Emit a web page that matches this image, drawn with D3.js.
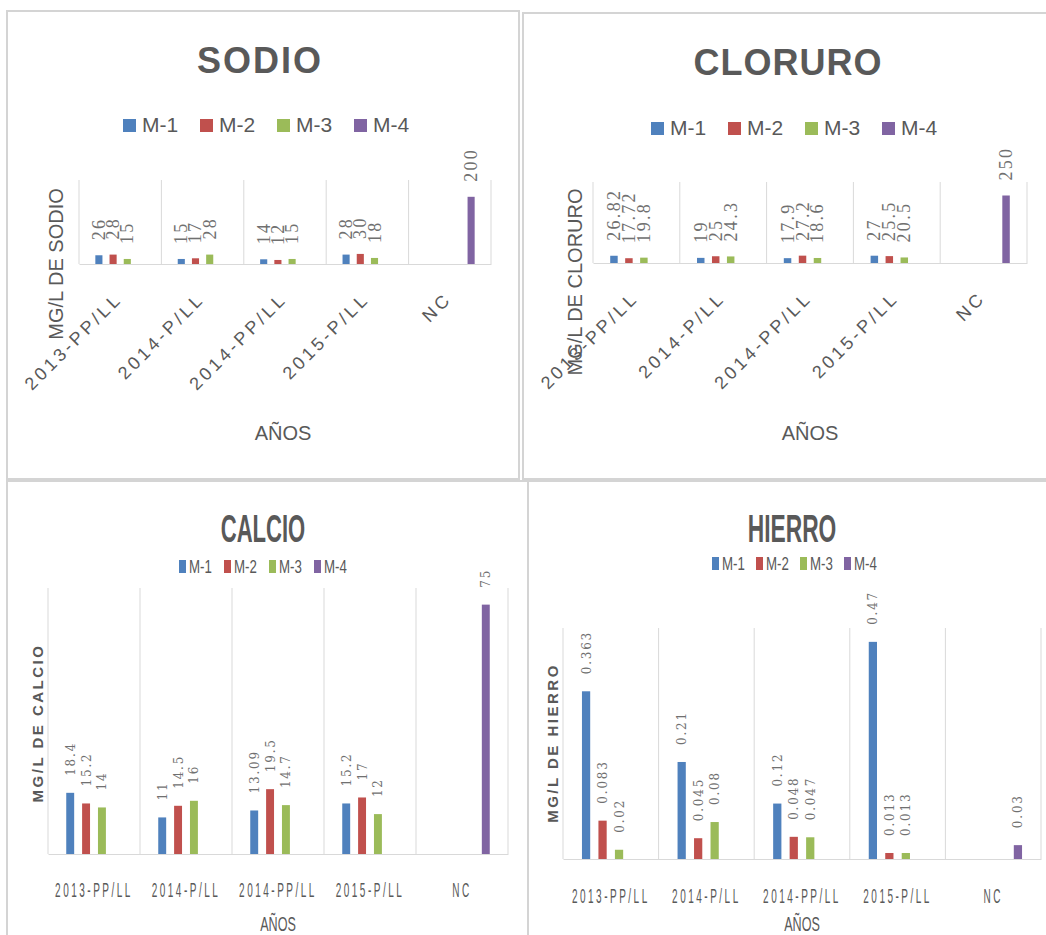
<!DOCTYPE html>
<html>
<head>
<meta charset="utf-8">
<script src="https://cdn.jsdelivr.net/npm/d3@7"></script>
<style>
body{margin:0;background:#fff;}
svg text{font-family:"Liberation Sans",Arial,sans-serif;}
</style>
</head>
<body>
<div id="canvas"></div>
<script>
// categories + series
var categories = ['2013-PP/LL','2014-P/LL','2014-PP/LL','2015-P/LL','NC'];
var seriesNames = ['M-1','M-2','M-3','M-4'];
var seriesColors = ['#4F81BD','#C0504D','#9BBB59','#8064A2'];

// SODIO
var sodioM1 = [26, 15, 14, 28, null];
var sodioM2 = [28, 17, 12, 30, null];
var sodioM3 = [15, 28, 15, 18, null];
var sodioM4 = [null, null, null, null, 200];
// CLORURO
var cloruroM1 = [26.82, 19, 17.9, 27, null];
var cloruroM2 = [17.72, 25, 27.2, 25.5, null];
var cloruroM3 = [19.8, 24.3, 18.6, 20.5, null];
var cloruroM4 = [null, null, null, null, 250];
// CALCIO
var calcioM1 = [18.4, 11, 13.09, 15.2, null];
var calcioM2 = [15.2, 14.5, 19.5, 17, null];
var calcioM3 = [14, 16, 14.7, 12, null];
var calcioM4 = [null, null, null, null, 75];
// HIERRO
var hierroM1 = [0.363, 0.21, 0.12, 0.47, null];
var hierroM2 = [0.083, 0.045, 0.048, 0.013, null];
var hierroM3 = [0.02, 0.08, 0.047, 0.013, null];
var hierroM4 = [null, null, null, null, 0.03];

var W = 1046, H = 935;
var svg = d3.select('#canvas').append('svg')
    .attr('width', W)
    .attr('height', H);

// panel frames
var frames = [[7,11,512,468],[523,13,540,466],[7,481,521,470],[528,481,530,470]];
frames.forEach(function(f){
    svg.append('rect')
        .attr('x', f[0]).attr('y', f[1])
        .attr('width', f[2]).attr('height', f[3])
        .attr('fill', 'none')
        .attr('stroke', '#d4d4d4')
        .attr('stroke-width', 2);
});

function drawChart(o){
    var w = o.r - o.l, h = o.b - o.t;
    var vals = [o.m1, o.m2, o.m3, o.m4];

    var x0 = d3.scaleBand().domain(categories).range([0, w]);
    var x1 = d3.scaleBand().domain(seriesNames)
        .range([0, x0.bandwidth()])
        .paddingInner(0.5)
        .paddingOuter(1.15);
    var y = d3.scaleLinear().domain([0, o.yMax]).range([h, 0]);

    // title
    svg.append('text')
        .attr('transform', 'translate(' + o.titleX + ',' + o.titleY + ') scale(' + o.titleScale + ',1)')
        .attr('text-anchor', 'middle')
        .style('font-size', o.titleSize + 'px')
        .style('font-weight', 'bold')
        .style('letter-spacing', o.titleSpacing + 'px')
        .attr('fill', '#595959')
        .text(o.title);

    // legend
    var leg = svg.append('g');
    seriesNames.forEach(function(s, i){
        var lx = o.legX + i * o.legStep;
        leg.append('rect')
            .attr('x', lx).attr('y', o.legY)
            .attr('width', o.legW).attr('height', o.legH)
            .attr('fill', seriesColors[i]);
        leg.append('text')
            .attr('transform', 'translate(' + (lx + o.legTextDx) + ',' + (o.legY + o.legH) + ') scale(' + o.legScale + ',1)')
            .style('font-size', o.legSize + 'px')
            .attr('fill', '#595959')
            .text(s);
    });

    var plot = svg.append('g')
        .attr('transform', 'translate(' + o.l + ',' + o.t + ')');

    // vertical category separators
    var edges = categories.map(function(c){ return x0(c); }).concat([w]);
    plot.selectAll('.sep')
        .data(edges)
        .enter().append('line')
        .attr('class', 'sep')
        .attr('x1', function(d){ return d; })
        .attr('x2', function(d){ return d; })
        .attr('y1', 0).attr('y2', h)
        .attr('stroke', '#d9d9d9');

    // x axis
    var axisX = d3.axisBottom(x0).tickSize(0).tickSizeOuter(0);
    var ax = plot.append('g')
        .attr('class', 'axis axis-x')
        .attr('transform', 'translate(0,' + h + ')')
        .call(axisX);
    ax.select('.domain').attr('stroke', '#d9d9d9');
    ax.selectAll('text')
        .attr('x', null).attr('y', null).attr('dy', null)
        .attr('fill', '#595959')
        .style('font-family', '"Liberation Sans",Arial,sans-serif')
        .style('font-size', o.xSize + 'px')
        .style('letter-spacing', o.xSpacing + 'px');
    if (o.rotateX) {
        ax.selectAll('text')
            .attr('text-anchor', 'end')
            .attr('transform', 'translate(' + o.xDx + ',' + o.xDy + ') rotate(-45)');
    } else {
        ax.selectAll('text')
            .attr('text-anchor', 'middle')
            .attr('transform', 'translate(' + o.xDx + ',' + o.xDy + ') scale(' + o.xScale + ',1)');
    }

    // bars
    var groups = plot.selectAll('.cat')
        .data(categories)
        .enter().append('g')
        .attr('class', 'cat')
        .attr('transform', function(c){ return 'translate(' + x0(c) + ',0)'; });

    var bars = groups.selectAll('.bar')
        .data(function(c, ci){
            return seriesNames.map(function(s, si){
                return {s: s, si: si, v: vals[si][ci]};
            }).filter(function(d){ return d.v != null; });
        })
        .enter();

    bars.append('rect')
        .attr('class', 'bar')
        .attr('x', function(d){ return x1(d.s); })
        .attr('y', function(d){ return y(d.v); })
        .attr('width', x1.bandwidth())
        .attr('height', function(d){ return h - y(d.v); })
        .attr('fill', function(d){ return seriesColors[d.si]; });

    bars.append('text')
        .attr('transform', function(d){
            return 'translate(' + (x1(d.s) + x1.bandwidth() / 2 + o.lblDx) + ',' + (y(d.v) - o.lblGap) + ') rotate(-90)';
        })
        .style('font-family', o.lblFont)
        .style('font-size', o.lblSize + 'px')
        .style('letter-spacing', o.lblSpacing + 'px')
        .attr('fill', '#707070')
        .text(function(d){ return d.v; });

    // axis titles
    svg.append('text')
        .attr('transform', 'translate(' + o.ytX + ',' + o.ytY + ') rotate(-90)')
        .attr('text-anchor', 'middle')
        .style('font-size', o.ytSize + 'px')
        .style('font-weight', o.ytWeight)
        .style('letter-spacing', o.ytSpacing + 'px')
        .attr('fill', '#595959')
        .text(o.yTitle);

    svg.append('text')
        .attr('transform', 'translate(' + o.xtX + ',' + o.xtY + ') scale(' + o.xtScale + ',1)')
        .attr('text-anchor', 'middle')
        .style('font-size', o.xtSize + 'px')
        .attr('fill', '#595959')
        .text('AÑOS');
}

var topStyle = {
    titleSize: 36, titleScale: 1, titleSpacing: 2,
    legW: 13, legH: 13, legStep: 77, legTextDx: 19, legSize: 21, legScale: 1,
    rotateX: true, xSize: 18, xSpacing: 3.4, xDx: 3, xDy: 36,
    lblFont: '"Liberation Serif",serif', lblSize: 18, lblSpacing: 2.3, lblDx: 6, lblGap: 15,
    ytSize: 20, ytWeight: 'normal', ytSpacing: 0,
    xtSize: 20, xtScale: 1
};
var botStyle = {
    titleSize: 38, titleSpacing: 0,
    legW: 7, legH: 13, legTextDx: 10, legSize: 19, legScale: 0.7,
    rotateX: false, xSize: 20, xSpacing: 5, xScale: 0.5, xDx: 0,
    lblFont: '"DejaVu Serif",serif', lblSize: 12, lblSpacing: 1.8, lblDx: 4.5, lblGap: 17,
    ytSize: 15, ytWeight: 'bold', ytSpacing: 2.5,
    xtSize: 21, xtScale: 0.6
};

drawChart(Object.assign({}, topStyle, {
    title: 'SODIO', yTitle: 'MG/L DE SODIO',
    m1: sodioM1, m2: sodioM2, m3: sodioM3, m4: sodioM4, yMax: 250,
    l: 79, t: 180, r: 491, b: 264,
    titleX: 260, titleY: 73,
    legX: 123, legY: 119,
    ytX: 63, ytY: 264, xtX: 283, xtY: 440
}));

drawChart(Object.assign({}, topStyle, {
    title: 'CLORURO', yTitle: 'MG/L DE CLORURO', titleSpacing: 1,
    m1: cloruroM1, m2: cloruroM2, m3: cloruroM3, m4: cloruroM4, yMax: 300,
    l: 593, t: 182, r: 1027, b: 263,
    titleX: 788, titleY: 75,
    legX: 651, legY: 122,
    ytX: 582, ytY: 282, xtX: 810, xtY: 440
}));

drawChart(Object.assign({}, botStyle, {
    title: 'CALCIO', yTitle: 'MG/L DE CALCIO', titleScale: 0.58,
    m1: calcioM1, m2: calcioM2, m3: calcioM3, m4: calcioM4, yMax: 80,
    l: 48, t: 588, r: 508, b: 854,
    titleX: 263, titleY: 542,
    legX: 179, legY: 560, legStep: 45,
    xDy: 43,
    ytX: 43, ytY: 723, xtX: 278, xtY: 931
}));

drawChart(Object.assign({}, botStyle, {
    title: 'HIERRO', yTitle: 'MG/L DE HIERRO', titleScale: 0.6,
    m1: hierroM1, m2: hierroM2, m3: hierroM3, m4: hierroM4, yMax: 0.5,
    l: 563, t: 628, r: 1041, b: 859,
    titleX: 792, titleY: 542,
    legX: 712, legY: 557, legStep: 44,
    xDy: 44,
    ytX: 558, ytY: 743, xtX: 802, xtY: 931
}));
</script>
</body>
</html>
